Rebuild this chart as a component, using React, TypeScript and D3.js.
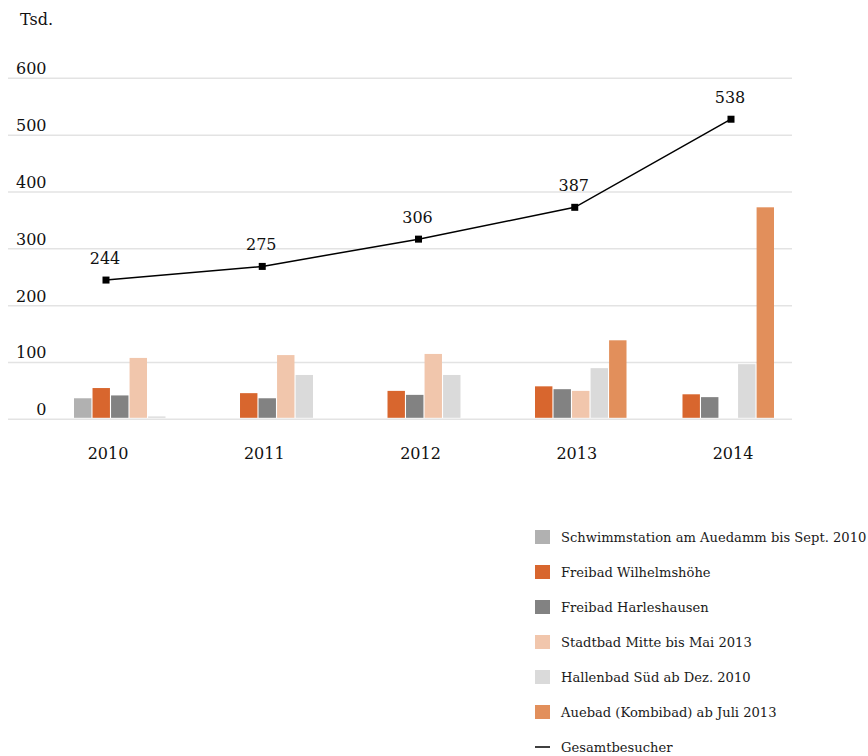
import React from "react";
import * as d3 from "d3";

const years = ["2010", "2011", "2012", "2013", "2014"];
const seriesNames = [
  "Schwimmstation am Auedamm bis Sept. 2010",
  "Freibad Wilhelmshöhe",
  "Freibad Harleshausen",
  "Stadtbad Mitte bis Mai 2013",
  "Hallenbad Süd ab Dez. 2010",
  "Auebad (Kombibad) ab Juli 2013",
];
const seriesColors = ["#b1b1b1", "#d8662e", "#828282", "#f1c6ac", "#dadada", "#e28f5b"];
const schwimmstation = [37, null, null, null, null];
const wilhelmshoehe = [55, 46, 50, 58, 44];
const harleshausen = [42, 37, 43, 53, 39];
const stadtbad = [108, 113, 115, 50, null];
const hallenbad = [5, 78, 78, 90, 97];
const auebad = [null, null, null, 139, 373];
const seriesValues = [schwimmstation, wilhelmshoehe, harleshausen, stadtbad, hallenbad, auebad];
const totalPlotted = [245, 269, 317, 373, 528];
const totalLabels = ["244", "275", "306", "387", "538"];
const lineLegend = "Gesamtbesucher";
const yTicks = [0, 100, 200, 300, 400, 500, 600];
const unitLabel = "Tsd.";

const FONT = "'DejaVu Serif', serif";

export default function App() {
  const W = 868;
  const H = 756;
  const y = d3.scaleLinear().domain([0, 600]).range([419.3, 78.3]);
  const xPoint = d3.scalePoint<string>().domain(years).range([106, 731]);
  const xGroup = d3.scaleBand<string>().domain(years).range([74, 774]).paddingInner(0.254).paddingOuter(0);
  const xSub = d3
    .scaleBand<number>()
    .domain(d3.range(seriesNames.length))
    .range([0, xGroup.bandwidth()])
    .paddingInner(0.06);
  const line = d3
    .line<number>()
    .x((_, i) => xPoint(years[i])!)
    .y((d) => y(d));

  const legendY = d3.scalePoint<number>().domain(d3.range(seriesNames.length + 1)).range([537, 747]);

  return (
    <svg
      width={W}
      height={H}
      style={{ position: "absolute", left: 0, top: 0, background: "#fff" }}
      fontFamily={FONT}
    >
      <text x={20} y={25} fontSize={16} fill="#111">
        {unitLabel}
      </text>
      {yTicks.map((t) => (
        <g key={t}>
          <line x1={8} x2={792} y1={y(t)} y2={y(t)} stroke="#e3e3e3" strokeWidth={1.5} />
          <text x={46.5} y={y(t) - 4} fontSize={16} textAnchor="end" fill="#111">
            {t}
          </text>
        </g>
      ))}
      {seriesValues.map((vals, s) =>
        vals.map((v, i) =>
          v == null ? null : (
            <rect
              key={`${s}-${i}`}
              x={xGroup(years[i])! + xSub(s)!}
              y={y(v)}
              width={xSub.bandwidth()}
              height={y(0) - 1.5 - y(v)}
              fill={seriesColors[s]}
            />
          )
        )
      )}
      {years.map((yr) => (
        <text key={yr} x={xPoint(yr)! + 2} y={459} fontSize={16} textAnchor="middle" fill="#111">
          {yr}
        </text>
      ))}
      <path d={line(totalPlotted) || ""} fill="none" stroke="#000" strokeWidth={1.5} />
      {totalPlotted.map((v, i) => (
        <rect key={i} x={xPoint(years[i])! - 3.5} y={y(v) - 3.5} width={7} height={7} fill="#000" />
      ))}
      {totalPlotted.map((v, i) => (
        <text
          key={`l${i}`}
          x={xPoint(years[i])! - 1}
          y={y(v) - 16}
          fontSize={16}
          textAnchor="middle"
          fill="#111"
        >
          {totalLabels[i]}
        </text>
      ))}
      {seriesNames.map((n, i) => (
        <g key={n}>
          <rect x={535} y={legendY(i)! - 7} width={15} height={14} fill={seriesColors[i]} />
          <text x={561} y={legendY(i)! + 4.5} fontSize={13.1} fill="#1a1a1a">
            {n}
          </text>
        </g>
      ))}
      <g>
        <line
          x1={535}
          x2={550}
          y1={legendY(seriesNames.length)!}
          y2={legendY(seriesNames.length)!}
          stroke="#000"
          strokeWidth={1.5}
        />
        <text x={561} y={legendY(seriesNames.length)! + 4.5} fontSize={13.1} fill="#1a1a1a">
          {lineLegend}
        </text>
      </g>
    </svg>
  );
}
